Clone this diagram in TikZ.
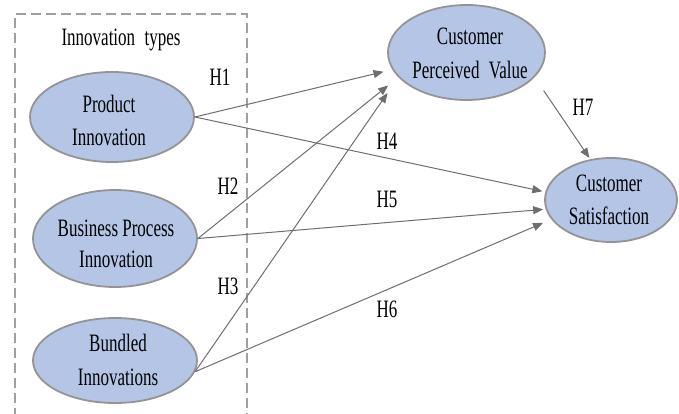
\documentclass[tikz,border=0pt]{standalone}
\usepackage{fontspec}
\setmainfont{Liberation Serif}
\usepackage{graphicx}
\usetikzlibrary{arrows.meta,shapes.geometric}
\definecolor{ellfill}{HTML}{B4C5E6}
\definecolor{ellline}{HTML}{949494}
\definecolor{arrowc}{HTML}{6E6E6E}
\definecolor{dashc}{HTML}{A0A0A0}
\newcommand{\sq}[1]{\scalebox{0.68}[1]{#1}}
\begin{document}
\begin{tikzpicture}[x=1pt,y=-1pt,
  ell/.style={ellipse, draw=ellline, line width=1.8pt, fill=ellfill, inner sep=0pt},
  txt/.style={inner sep=0pt, align=center, font=\fontsize{25}{33}\selectfont},
  hyp/.style={inner sep=0pt, font=\fontsize{25}{30}\selectfont},
  arr/.style={draw=arrowc, line width=1pt, -{Triangle[length=10pt,width=8pt]}},
  grpbox/.style={draw=dashc, line width=1.2pt, dash pattern=on 10pt off 5pt}
]
\useasboundingbox (0,0) rectangle (679,414);
% group box (bottom edge lies outside the picture)
\draw[grpbox] (15,418) -- (15,14) -- (247,14) -- (247,418);
% ellipses
\node[ell, minimum width=164pt, minimum height=90pt] (pi) at (112,117) {};
\node[ell, minimum width=164pt, minimum height=97pt] (bp) at (115,238.5) {};
\node[ell, minimum width=164pt, minimum height=85pt] (bi) at (115,360.5) {};
\node[ell, minimum width=157pt, minimum height=95pt] (cpv) at (466.5,52.5) {};
\node[ell, minimum width=132pt, minimum height=84pt] (cs) at (611,200) {};
% texts
\node[txt, anchor=base] (itT) at (121,46) {\sq{Innovation\hspace{0.3em} types}};
\node[txt, anchor=north] (piT) at (109,94.5) {\sq{Product}\\\sq{Innovation}};
\node[txt, anchor=north] (bpT) at (116,219.5) {\sq{Business Process}\\[-2pt]\sq{Innovation}};
\node[txt, anchor=north] (biT) at (118,333.5) {\sq{Bundled}\\[1pt]\sq{Innovations}};
\node[txt, anchor=north] (cpvT) at (470,27.5) {\sq{Customer}\\[1pt]\sq{Perceived\hspace{0.3em} Value}};
\node[txt, anchor=north] (csT) at (609,174.5) {\sq{Customer}\\\sq{Satisfaction}};
% connectors
\draw[arr, shorten >=9pt] (pi.east) -- (cpv.193);
\draw[arr, shorten >=3pt] (pi.east) -- (cs.173.6);
\draw[arr, shorten >=13pt] (bp.east) -- (cpv.200);
\draw[arr, shorten >=2.5pt] (bp.east) -- (cs.188);
\draw[arr, shorten >=19pt] (bi.352) -- (cpv.200.5);
\draw[arr, shorten >=9pt] (bi.352) -- (cs.198);
\draw[arr, shorten <=16pt, shorten >=1.5pt] (cpv.340) -- (cs.117);
% hypothesis labels
\node[hyp] (h1) at (220,77) {\sq{H1}};
\node[hyp] (h2) at (228,186) {\sq{H2}};
\node[hyp] (h3) at (228,286) {\sq{H3}};
\node[hyp] (h4) at (387,141) {\sq{H4}};
\node[hyp] (h5) at (387,199) {\sq{H5}};
\node[hyp] (h6) at (387,309) {\sq{H6}};
\node[hyp] (h7) at (583,107) {\sq{H7}};
\end{tikzpicture}
\end{document}
